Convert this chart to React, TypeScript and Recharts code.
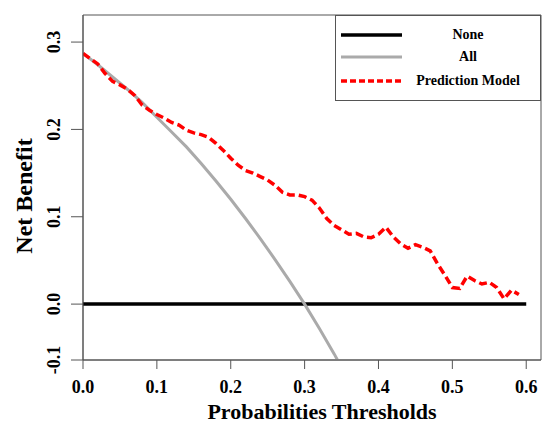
import React from "react";
import { LineChart, Line, XAxis, YAxis, ReferenceArea, Label } from "recharts";

// decision curve values
const thresholds = [
  0, 0.01, 0.02, 0.03, 0.04, 0.05, 0.06, 0.07, 0.08, 0.09,
  0.1, 0.11, 0.12, 0.13, 0.14, 0.15, 0.16, 0.17, 0.18, 0.19,
  0.2, 0.21, 0.22, 0.23, 0.24, 0.25, 0.26, 0.27, 0.28, 0.29,
  0.3, 0.31, 0.32, 0.33, 0.34, 0.35, 0.36, 0.37, 0.38, 0.39,
  0.4, 0.41, 0.42, 0.43, 0.44, 0.45, 0.46, 0.47, 0.48, 0.49,
  0.5, 0.51, 0.52, 0.53, 0.54, 0.55, 0.56, 0.57, 0.58, 0.59,
];
const predictionModel = [
  0.287, 0.281, 0.275, 0.264, 0.255, 0.251, 0.246, 0.239, 0.228, 0.222,
  0.217, 0.213, 0.208, 0.205, 0.199, 0.196, 0.194, 0.191, 0.184, 0.176,
  0.167, 0.159, 0.153, 0.15, 0.146, 0.142, 0.136, 0.128, 0.125, 0.125,
  0.123, 0.119, 0.11, 0.098, 0.09, 0.085, 0.08, 0.081, 0.077, 0.076,
  0.08, 0.088, 0.077, 0.069, 0.064, 0.068, 0.065, 0.061, 0.046, 0.033,
  0.019, 0.018, 0.032, 0.027, 0.023, 0.025, 0.019, 0.006, 0.016, 0.011,
];

const allThresholds = [
  0, 0.02, 0.04, 0.06, 0.08, 0.1, 0.12, 0.14, 0.16, 0.18,
  0.2, 0.22, 0.24, 0.26, 0.28, 0.3, 0.32, 0.34, 0.36,
];
const treatAll = [
  0.287, 0.274, 0.26, 0.246, 0.231, 0.214, 0.197, 0.18, 0.161, 0.141,
  0.12, 0.098, 0.075, 0.051, 0.026, 0.0, -0.028, -0.057, -0.088,
];

const noneThresholds = [0, 0.6];
const treatNone = [0, 0];

const xTicks = [0, 0.1, 0.2, 0.3, 0.4, 0.5, 0.6];
const yTicks = [-0.064, 0, 0.1, 0.2, 0.3];
const yTickLabels = ["-0.1", "0.0", "0.1", "0.2", "0.3"];

const modelData = thresholds.map((x, i) => ({ x, y: predictionModel[i] }));
const allData = allThresholds.map((x, i) => ({ x, y: treatAll[i] }));
const noneData = noneThresholds.map((x, i) => ({ x, y: treatNone[i] }));

const FONT = "'Liberation Serif', 'Times New Roman', serif";
const AXIS = "#555";
const X_DOMAIN = [0, 0.62];
const Y_DOMAIN = [-0.064, 0.331];

const series = [
  { name: "None", data: noneData, color: "#000", width: 3.5, dash: undefined as string | undefined },
  { name: "All", data: allData, color: "#aaaaaa", width: 3, dash: undefined as string | undefined },
  { name: "Prediction Model", data: modelData, color: "#ff0000", width: 3.5, dash: "8 4" },
];

const XTick = (props: any) => (
  <text
    x={props.x}
    y={393}
    textAnchor="middle"
    fontFamily={FONT}
    fontWeight="bold"
    fontSize={18}
    fill="#000"
  >
    {props.payload.value.toFixed(1)}
  </text>
);

const YTick = (props: any) => {
  const idx = yTicks.indexOf(props.payload.value);
  return (
    <text
      x={60}
      y={props.y}
      transform={`rotate(-90, 60, ${props.y})`}
      textAnchor="middle"
      fontFamily={FONT}
      fontWeight="bold"
      fontSize={18}
      fill="#000"
    >
      {idx >= 0 ? yTickLabels[idx] : props.payload.value}
    </text>
  );
};

const LegendBox = () => (
  <div
    style={{
      position: "absolute",
      left: 335,
      top: 15,
      width: 206,
      height: 86,
      border: `1px solid ${AXIS}`,
      boxSizing: "border-box",
      background: "#fff",
    }}
  >
    {series.map((s, i) => {
      const top = [19, 41, 65][i];
      return (
        <div key={s.name} style={{ position: "absolute", left: 0, top: top - 10, width: 206, height: 20 }}>
          <svg width={70} height={20} style={{ position: "absolute", left: 5, top: 0 }}>
            <line x1={0} y1={10} x2={61} y2={10} stroke={s.color} strokeWidth={s.width} strokeDasharray={s.dash ? "6 3" : undefined} />
          </svg>
          <div
            style={{
              position: "absolute",
              left: 72,
              width: 120,
              textAlign: "center",
              top: 1,
              fontFamily: FONT,
              fontWeight: "bold",
              fontSize: 14,
              lineHeight: "17px",
              color: "#000",
            }}
          >
            {s.name}
          </div>
        </div>
      );
    })}
  </div>
);

export default function App() {
  return (
    <div style={{ position: "absolute", left: 0, top: 0, width: 544, height: 424, background: "#fff" }}>
      <LineChart width={544} height={424} margin={{ top: 15, right: 3, left: 0, bottom: 0 }}>
        <XAxis
          dataKey="x"
          type="number"
          domain={X_DOMAIN}
          ticks={xTicks}
          allowDataOverflow
          height={64}
          tickSize={9}
          stroke={AXIS}
          tick={<XTick />}
        >
          <Label
            content={() => (
              <text x={322} y={419} textAnchor="middle" fontFamily={FONT} fontWeight="bold" fontSize={22} fill="#000">
                Probabilities Thresholds
              </text>
            )}
          />
        </XAxis>
        <YAxis
          type="number"
          domain={Y_DOMAIN}
          ticks={yTicks}
          allowDataOverflow
          width={83}
          tickSize={12}
          stroke={AXIS}
          tick={<YTick />}
        >
          <Label
            content={() => (
              <text
                x={32}
                y={196}
                transform="rotate(-90, 32, 196)"
                textAnchor="middle"
                fontFamily={FONT}
                fontWeight="bold"
                fontSize={24}
                fill="#000"
              >
                Net Benefit
              </text>
            )}
          />
        </YAxis>
        <ReferenceArea
          x1={X_DOMAIN[0]}
          x2={X_DOMAIN[1]}
          y1={Y_DOMAIN[0]}
          y2={Y_DOMAIN[1]}
          fill="none"
          stroke={AXIS}
          strokeWidth={1}
          ifOverflow="visible"
        />
        {series.map((s) => (
          <Line
            key={s.name}
            data={s.data}
            dataKey="y"
            name={s.name}
            stroke={s.color}
            strokeWidth={s.width}
            strokeDasharray={s.dash}
            dot={false}
            activeDot={false}
            isAnimationActive={false}
          />
        ))}
      </LineChart>
      <LegendBox />
    </div>
  );
}
